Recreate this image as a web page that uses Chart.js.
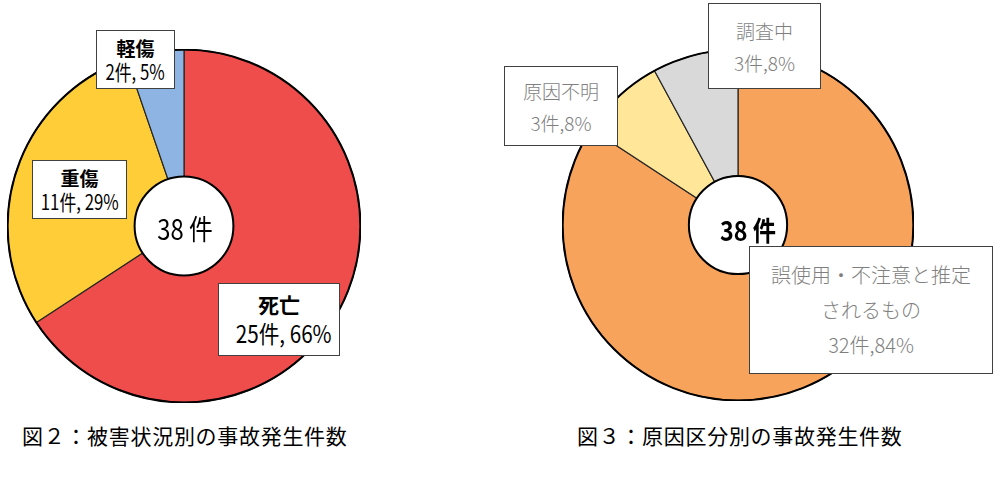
<!DOCTYPE html>
<html lang="ja">
<head>
<meta charset="utf-8">
<script src="https://cdn.jsdelivr.net/npm/chart.js@4.4.1/dist/chart.umd.min.js"></script>
<style>
  html, body { margin:0; padding:0; background:#fff; }
  body { width:1000px; height:478px; position:relative; overflow:hidden;
         font-family:"Noto Sans CJK JP","Noto Sans",sans-serif; }
  .cv { position:absolute; }
  .box { position:absolute; background:#fff; border:1px solid #404040; box-sizing:border-box;
         display:flex; flex-direction:column; justify-content:center; align-items:center; }
  .box div { white-space:nowrap; line-height:1.0; }
  .lbl-l { color:#000; }
  .lbl-r { color:#7f7f7f; font-weight:300; }
  .center { position:absolute; white-space:nowrap; color:#000; }
  .cap { position:absolute; font-size:21px; color:#000; white-space:nowrap; letter-spacing:0.7px; }
</style>
</head>
<body>
<canvas id="c1" class="cv"></canvas>
<canvas id="c2" class="cv"></canvas>
<div id="overlay"></div>
<script>
// ---- data ----
const leftCategories = ['死亡', '重傷', '軽傷'];
const leftValues = [25, 11, 2];
const leftPercents = [66, 29, 5];

const rightCategories = ['誤使用・不注意と推定されるもの', '原因不明', '調査中'];
const rightLabelLines = [['誤使用・不注意と推定', 'されるもの'], ['原因不明'], ['調査中']];
const rightValues = [32, 3, 3];
const rightPercents = [84, 8, 8];

const unitText = '件';
const captionLeft = '図２：被害状況別の事故発生件数';
const captionRight = '図３：原因区分別の事故発生件数';

// ---- styling ----
const leftColors = ['#EF4C4C', '#FFCD37', '#8DB4E2'];
const rightColors = ['#F7A35B', '#FFE699', '#D9D9D9'];

const ringPlugin = {
  id: 'ring',
  afterDatasetsDraw(chart) {
    const arc = chart.getDatasetMeta(0).data[0];
    if (!arc) return;
    const { x, y, outerRadius, innerRadius } = arc.getProps(['x','y','outerRadius','innerRadius'], true);
    const ctx = chart.ctx;
    ctx.save();
    ctx.beginPath();
    ctx.arc(x, y, outerRadius, 0, Math.PI * 2);
    ctx.lineWidth = 2;
    ctx.strokeStyle = '#000';
    ctx.stroke();
    ctx.beginPath();
    ctx.arc(x, y, innerRadius, 0, Math.PI * 2);
    ctx.fillStyle = '#fff';
    ctx.fill();
    ctx.lineWidth = 2;
    ctx.strokeStyle = '#000';
    ctx.stroke();
    ctx.restore();
  }
};

function makeChart(id, left, top, size, values, labels, colors) {
  const cv = document.getElementById(id);
  cv.width = size; cv.height = size;
  cv.style.left = left + 'px';
  cv.style.top = top + 'px';
  cv.style.width = size + 'px';
  cv.style.height = size + 'px';
  return new Chart(cv, {
    type: 'doughnut',
    data: {
      labels: labels,
      datasets: [{
        data: values,
        backgroundColor: colors,
        borderColor: '#262626',
        borderWidth: 1.2,
        borderAlign: 'center'
      }]
    },
    options: {
      responsive: false,
      animation: false,
      cutout: '28%',
      rotation: 0,
      layout: { padding: 0 },
      plugins: { legend: { display: false }, tooltip: { enabled: false } }
    },
    plugins: [ringPlugin]
  });
}

makeChart('c1', 7, 49, 354, leftValues, leftCategories, leftColors);
makeChart('c2', 562, 49, 352, rightValues, rightCategories, rightColors);

// ---- overlay text ----
const ov = document.getElementById('overlay');
function addBox(x, y, w, h, lines, cls) {
  const b = document.createElement('div');
  b.className = 'box ' + cls;
  b.style.left = x + 'px'; b.style.top = y + 'px';
  b.style.width = w + 'px'; b.style.height = h + 'px';
  lines.forEach(l => {
    const d = document.createElement('div');
    d.textContent = l.text;
    d.style.fontSize = l.size + 'px';
    if (l.bold) d.style.fontWeight = '700';
    if (l.mt) d.style.marginTop = l.mt + 'px';
    let tf = '';
    if (l.ml) tf += 'translateX(' + l.ml + 'px) ';
    if (l.sx) tf += 'scaleX(' + l.sx + ')';
    if (tf) d.style.transform = tf;
    b.appendChild(d);
  });
  ov.appendChild(b);
}
const sumL = leftValues.reduce((a, b) => a + b, 0);
const sumR = rightValues.reduce((a, b) => a + b, 0);
const vL = i => leftValues[i] + unitText + ', ' + leftPercents[i] + '%';
const vR = i => rightValues[i] + unitText + ',' + rightPercents[i] + '%';

// left labels
addBox(218, 283, 122, 73, [
  { text: leftCategories[0], size: 21, bold: true },
  { text: vL(0), size: 24, mt: 6, ml: 5, sx: 0.86 }
], 'lbl-l');
addBox(32, 160, 95, 59, [
  { text: leftCategories[1], size: 19, bold: true },
  { text: vL(1), size: 21, mt: 4, sx: 0.8 }
], 'lbl-l');
addBox(96, 30, 79, 59, [
  { text: leftCategories[2], size: 19, bold: true },
  { text: vL(2), size: 21, mt: 4, sx: 0.8 }
], 'lbl-l');

// right labels
addBox(749, 246, 244, 128, [
  { text: rightLabelLines[0][0], size: 20 },
  { text: rightLabelLines[0][1], size: 20, mt: 15 },
  { text: vR(0), size: 20, mt: 15 }
], 'lbl-r');
addBox(504, 66, 114, 80, [
  { text: rightLabelLines[1][0], size: 19 },
  { text: vR(1), size: 19, mt: 13 }
], 'lbl-r');
addBox(708, 3, 113, 86, [
  { text: rightLabelLines[2][0], size: 19 },
  { text: vR(2), size: 19, mt: 13 }
], 'lbl-r');

// centers
function addCenter(x, y, text, size, bold, sx) {
  const d = document.createElement('div');
  d.className = 'center';
  d.style.left = x + 'px'; d.style.top = y + 'px';
  d.style.fontSize = size + 'px';
  d.style.transform = 'translate(-50%,-50%) scaleX(' + sx + ')';
  if (bold) d.style.fontWeight = '700';
  d.textContent = text;
  ov.appendChild(d);
}
addCenter(185, 228, sumL + ' ' + unitText, 28, false, 0.85);
addCenter(748, 229, sumR + ' ' + unitText, 27, true, 0.86);

// captions
function addCap(x, y, text) {
  const d = document.createElement('div');
  d.className = 'cap';
  d.style.left = x + 'px'; d.style.top = y + 'px';
  d.textContent = text;
  ov.appendChild(d);
}
addCap(22, 420, captionLeft);
addCap(577, 420, captionRight);
</script>
</body>
</html>
